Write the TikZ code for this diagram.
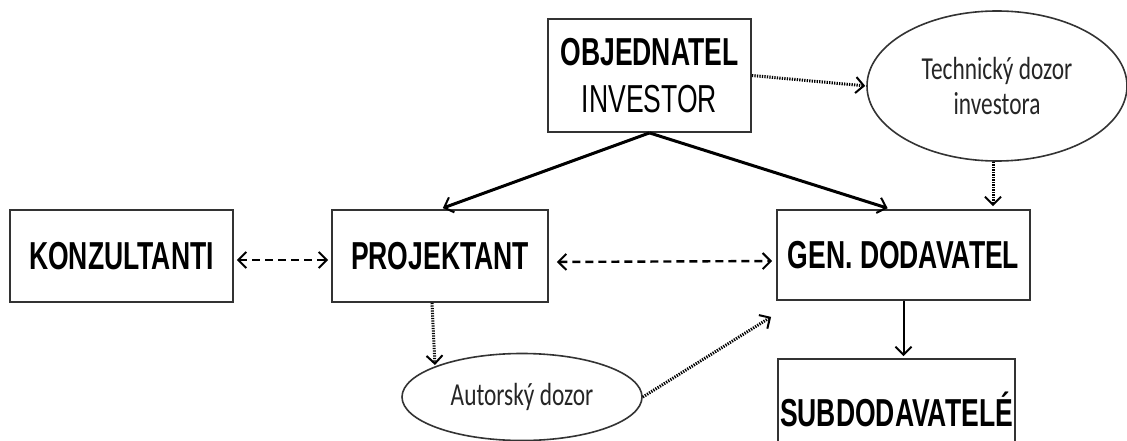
\documentclass[tikz,border=0pt]{standalone}
\usepackage{fontspec}
\setmainfont{Liberation Sans}
\newfontfamily\boxfont[FakeStretch=0.68]{Liberation Sans}
\newfontfamily\ellfont[FakeStretch=0.73]{Carlito}
\usetikzlibrary{arrows.meta,shapes.geometric}
\begin{document}
\begin{tikzpicture}[x=1pt,y=-1pt,
  box/.style={draw=black!80,line width=1.8pt,rectangle,inner sep=0pt,align=center,
    font=\boxfont\bfseries\fontsize{39}{47}\selectfont},
  oval/.style={draw=black!80,line width=1.6pt,ellipse,inner sep=0pt,align=center,
    text=black!85,font=\ellfont\fontsize{32}{35}\selectfont},
  barb/.style={-{Straight Barb[length=8pt,width=16pt,line width=2pt]}},
  barbs/.style={{Straight Barb[length=8pt,width=16pt,line width=2pt]}-{Straight Barb[length=8pt,width=16pt,line width=2pt]}},
  solidline/.style={draw=black,line width=3pt,barb},
  thinline/.style={draw=black,line width=2pt,barb},
  dashline/.style={draw=black,line width=2.4pt,dash pattern=on 8pt off 5pt,barbs},
  dotline/.style={draw=black,line width=3pt,dash pattern=on 1.3pt off 1.2pt,barb}
]
\useasboundingbox (0,0) rectangle (1127,441);
\fill[white] (0,0) rectangle (1127,441);
\clip (0,0) rectangle (1127,441);

\node[box,minimum width=203pt,minimum height=113pt] (obj) at (649.5,75.5)
  {OBJEDNATEL\\\mdseries INVESTOR};
\node[oval,minimum width=260pt,minimum height=150pt] (tdi) at (997,86)
  {Technický dozor\\investora};
\node[box,minimum width=223pt,minimum height=92pt] (konz) at (121.5,256) {KONZULTANTI};
\node[box,minimum width=216pt,minimum height=92pt] (proj) at (440,256) {PROJEKTANT};
\node[box,minimum width=253pt,minimum height=90pt] (gen) at (903.5,255) {GEN. DODAVATEL};
\node[box,minimum width=237pt,minimum height=100pt] (sub) at (896.5,409) {SUBDODAVATELÉ};
\node[oval,minimum width=240pt,minimum height=87pt] (aut) at (522,397) {Autorský dozor};

\coordinate (autin) at (435,366);
\coordinate (genin) at ([shift={(-5pt,-16pt)}]gen.south west);

\draw[solidline,shorten >=3pt] (obj.south) -- (proj.north);
\draw[solidline,shorten >=3pt] (obj.south) -- ([xshift=-13pt]gen.north);
\draw[dotline,shorten >=1pt] (obj.east) -- (tdi.west);
\draw[dotline,shorten >=3pt] ([xshift=-4pt]tdi.south) -- ([xshift=-4pt]tdi.south |- gen.north);
\draw[dashline,shorten <=3pt,shorten >=3pt] ([yshift=-4pt]konz.east) -- ([yshift=-4pt]proj.west);
\draw[dashline,shorten <=8pt,shorten >=4pt] ([yshift=-6pt]proj.east) -- ([yshift=-6pt]gen.west);
\draw[dotline,shorten >=1pt] ([xshift=-8pt]proj.south) -- (autin);
\draw[dotline] (aut.east) -- (genin);
\draw[thinline,shorten >=2pt] (gen.south) -- (gen.south |- sub.north);
\end{tikzpicture}
\end{document}
